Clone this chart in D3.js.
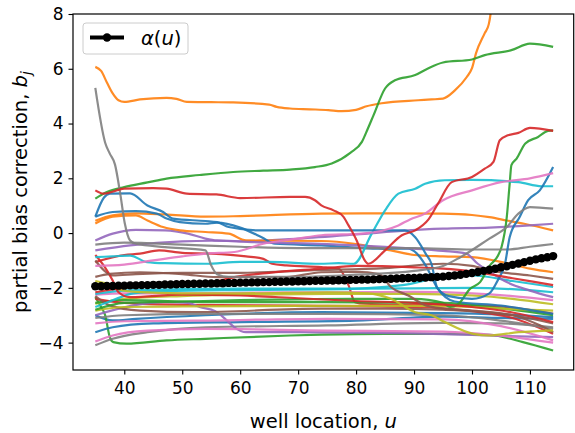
<!DOCTYPE html>
<html>
<head>
<meta charset="utf-8">
<script src="https://cdn.jsdelivr.net/npm/d3@7"></script>
<style>
  body { margin: 0; background: #fff; }
  text { font-family: "DejaVu Sans", sans-serif; }
</style>
</head>
<body>
<svg id="chart" width="575" height="433"></svg>
<script>
// ---- tick labels ----
const xTicks = [40, 50, 60, 70, 80, 90, 100, 110];
const yTicks = [-4, -2, 0, 2, 4, 6, 8];

// ---- alpha(u): one value per well location u = 35..114 ----
const alphaU = d3.range(35, 115);
const alphaValues = [
  -1.94, -1.94, -1.93, -1.93, -1.92, -1.92, -1.91, -1.91, -1.90, -1.90,
  -1.89, -1.89, -1.88, -1.88, -1.87, -1.86, -1.86, -1.85, -1.85, -1.84,
  -1.84, -1.83, -1.83, -1.82, -1.82, -1.81, -1.81, -1.80, -1.80, -1.79,
  -1.79, -1.78, -1.78, -1.77, -1.77, -1.76, -1.76, -1.75, -1.74, -1.74,
  -1.73, -1.73, -1.72, -1.72, -1.71, -1.71, -1.70, -1.70, -1.69, -1.68,
  -1.68, -1.67, -1.66, -1.65, -1.64, -1.64, -1.63, -1.62, -1.61, -1.60,
  -1.59, -1.57, -1.55, -1.52, -1.49, -1.46, -1.42, -1.38, -1.34, -1.30,
  -1.25, -1.21, -1.16, -1.11, -1.06, -1.01, -0.96, -0.92, -0.88, -0.84
];

// ---- partial bias corrections b_j, as [u, b] pairs ----
const orangeHigh = [[35,6.07],[36,5.92],[37,5.5],[38,5.1],[39,4.85],[40,4.79],[42.7,4.88],[47.3,4.94],[49,4.9],[50.8,4.79],[55,4.78],[58.8,4.77],[65,4.69],[66.3,4.61],[68.6,4.55],[72,4.52],[75.2,4.49],[77.5,4.45],[80,4.5],[81.8,4.63],[84.4,4.74],[90.7,4.85],[93,4.88],[95,4.91],[97,5.2],[99.1,5.7],[100,6.02],[100.7,6.57],[102.2,7.3],[102.9,7.63],[103.2,8.0],[103.5,8.6]];
const greenHigh = [[35,1.26],[37,1.5],[40,1.68],[44,1.85],[47.3,1.99],[53,2.12],[58.8,2.23],[64,2.28],[68.6,2.32],[72.9,2.41],[75.8,2.54],[79,2.93],[81,3.33],[82,3.8],[83,4.3],[85,5.28],[86.7,5.58],[90.2,5.77],[92.4,6.01],[95,6.23],[100,6.34],[102.2,6.5],[106.8,6.68],[110,6.92],[114,6.8]];
const redDip = [[35,1.56],[36.4,1.44],[40,1.62],[45,1.64],[47.3,1.62],[50.8,1.44],[55.9,1.41],[60,1.28],[68.6,1.32],[71.2,1.32],[72.9,1.2],[74,1.01],[76.1,0.83],[77.8,0.6],[78.7,0.28],[80.1,-0.27],[81.5,-1.0],[82.1,-1.12],[85,-0.63],[87.9,-0.08],[90.2,0.1],[92.5,0.5],[94.2,1.1],[96.5,1.86],[100,2.05],[102.2,2.35],[103.7,2.6],[104.8,3.39],[106.2,3.57],[108,3.66],[110,3.84],[114,3.73]];
const blueRise = [[35,0.6],[36.5,1.3],[37.5,1.44],[41,1.45],[44,1.01],[46.7,0.77],[48.4,0.53],[54,0.44],[56,0.4],[58,0.22],[63,0.1],[74,0.1],[88.4,0.1],[90.2,-0.15],[92,-0.75],[93,-1.12],[94,-2.0],[96,-2.3],[100,-2.4],[103,-2.2],[104.5,-1.7],[105.7,-1.12],[106.5,-0.15],[108.2,0.58],[109.7,1.2],[111.7,1.56],[114,2.41]];
const blueDrop = [[35,0.6],[38,0.77],[42,0.8],[45.6,0.71],[47.3,0.53],[49.6,0.4],[54,0.34],[56,0.38],[60,0.2],[63.7,-0.15],[66,-0.39],[74,-0.45],[84,-0.57],[89,-0.57],[90.5,-0.75],[92,-1.18],[94,-2.0],[97,-2.5],[105,-2.65],[114,-2.95]];
const orangeFlat = [[35,0.45],[38,0.65],[42,0.72],[47,0.68],[54,0.6],[60,0.62],[74,0.71],[85,0.72],[95,0.71],[100,0.66],[103,0.58],[106,0.46],[109,0.34],[114,0.1]];
const orangeSlide = [[35,0.35],[38,0.6],[42,0.65],[44,0.46],[46.7,0.22],[49.6,0.1],[54,0.04],[58,-0.02],[61,-0.27],[74,-0.29],[80,-0.4],[86,-0.63],[90,-0.8],[95,-0.85],[100,-0.88],[106,-1.1],[110,-1.3],[114,-1.43]];
const purpleHigh = [[35,-0.27],[38,-0.02],[42,0.12],[47,0.1],[51,-0.02],[54,-0.2],[56,-0.27],[60,-0.3],[70,-0.2],[80,-0.05],[89,0.1],[95,0.16],[103,0.2],[110,0.28],[114,0.34]];
const purpleMid = [[35,-0.63],[41,-0.45],[50,-0.3],[55,-0.28],[65,-0.35],[75,-0.4],[85,-0.5],[95,-0.65],[99,-0.75],[101,-1.12],[103,-1.4],[106,-1.79],[110,-2.1],[114,-2.34]];
const grayDrop = [[35,5.3],[36.7,3.3],[37.5,2.9],[38.4,2.5],[39.3,1.44],[40.1,0.34],[41,-0.27],[42,-0.39],[47,-0.51],[54,-0.63],[55,-1.18],[56,-1.5],[58,-1.6],[70,-1.6],[80,-1.52],[90,-1.38],[95,-1.2],[98,-0.88],[103,-0.2],[106,0.22],[108,0.71],[110,0.95],[114,0.89]];
const grayFlat = [[35,-0.42],[40,-0.35],[50,-0.42],[60,-0.5],[70,-0.55],[80,-0.55],[90,-0.55],[100,-0.6],[106,-0.6],[110,-0.5],[114,-0.4]];
const cyanRise = [[35,-0.88],[38,-0.85],[41,-0.82],[43.9,-1.06],[47,-1.1],[53.9,-1.12],[60,-1.05],[65,-1.05],[73.8,-1.12],[77,-1.1],[79.6,-1.12],[82.7,-0.02],[85,0.83],[87.3,1.44],[90.2,1.62],[91.9,1.8],[95.3,1.93],[100,1.94],[108,1.86],[112,1.71],[114,1.71]];
const pinkRise = [[35,-1.2],[40,-1.15],[45,-1.0],[50,-0.85],[54,-0.75],[59,-0.69],[64,-0.39],[70,-0.2],[74,-0.08],[81,-0.02],[87.3,0.28],[89.3,0.5],[91.9,0.71],[95,1.2],[100,1.56],[105,1.86],[110,2.0],[114,2.19]];
const redStep = [[35,-1.06],[40,-0.8],[42.7,-0.75],[46,-0.63],[50,-0.72],[55,-0.75],[61,-0.85],[64,-0.94],[65.5,-1.12],[68,-1.18],[74,-1.24],[77,-1.3],[78.7,-1.91],[79.8,-2.52],[81.5,-2.58],[90,-2.62],[95.3,-2.64],[103,-2.65],[108,-2.75],[114,-2.95]];
const redClimb = [[35,-2.16],[41.6,-1.97],[47.3,-1.91],[55,-1.8],[59,-1.61],[65,-1.45],[74,-1.3],[80,-1.2],[90,-1.25],[95,-1.3],[100,-1.4],[107,-1.65],[114,-1.9]];
const redPlunge = [[35,-0.8],[36.5,-1.2],[38,-1.73],[39,-2.16],[41,-2.34],[50,-2.25],[60,-2.28],[70,-2.38],[80,-2.48],[90,-2.55],[100,-2.7],[107,-2.9],[114,-3.25]];
const redLow = [[35,-2.4],[40,-2.55],[50,-2.62],[70,-2.65],[90,-2.7],[100,-2.85],[107,-3.1],[114,-3.68]];
const brownFall = [[35,-1.6],[37.5,-1.49],[42.7,-1.43],[50,-1.5],[56,-1.61],[68,-1.61],[74,-1.43],[80,-1.42],[84,-1.5],[86,-1.97],[89,-2.28],[92,-2.64],[95.3,-2.76],[100,-2.83],[107,-3.0],[111.7,-3.37],[114,-3.62]];
const brownHigh = [[35,-1.0],[36.5,-1.36],[38,-1.55],[42,-1.5],[50,-1.45],[60,-1.45],[72,-1.36],[85,-1.28],[95,-1.12],[100,-1.2],[103,-1.36],[110,-1.55],[114,-1.67]];
const brownLow = [[35,-2.3],[37.5,-2.64],[42.7,-2.83],[52,-2.89],[74,-2.76],[85,-2.76],[95,-2.8],[100,-2.85],[107,-3.0],[114,-3.3]];
const oliveA = [[35,-2.58],[40,-2.4],[50,-2.3],[60,-2.25],[75,-2.22],[90,-2.22],[100,-2.28],[107,-2.4],[114,-2.6]];
const oliveB = [[35,-2.83],[40,-2.7],[50,-2.68],[70,-2.66],[90,-2.66],[100,-2.7],[107,-2.78],[114,-2.83]];
const oliveSag = [[35,-1.75],[37,-1.85],[39,-2.05],[42,-2.15],[50,-2.2],[60,-2.2],[75,-2.16],[82,-2.2],[86,-2.4],[90.2,-2.89],[93,-3.0],[95.3,-3.25],[100.2,-3.68],[103,-3.74],[108,-3.62],[114,-3.55]];
const cyanA = [[35,-2.22],[40,-2.1],[50,-2.05],[60,-2.03],[75,-2.03],[90,-2.02],[100,-2.0],[107,-2.05],[114,-2.16]];
const cyanB = [[35,-2.7],[38,-2.45],[41.6,-2.2],[47,-2.12],[60,-2.08],[75,-2.06],[88,-1.9],[95,-1.6],[100,-1.55],[107,-1.75],[114,-1.97]];
const pinkA = [[35,-2.25],[40,-2.2],[50,-2.2],[60,-2.18],[75,-2.16],[90,-2.15],[100,-2.2],[107,-2.3],[114,-2.45]];
const pinkB = [[35,-3.3],[40,-3.22],[52,-3.2],[75,-3.13],[95,-3.15],[105,-3.4],[114,-3.92]];
const pinkC = [[35,-3.96],[38,-3.74],[44,-3.56],[54,-3.5],[75,-3.56],[95,-3.6],[105,-3.75],[114,-4.0]];
const blueA = [[35,-3.0],[38,-3.19],[42,-3.13],[54,-3.0],[74,-2.89],[95,-2.92],[105,-2.97],[114,-3.07]];
const blueB = [[35,-3.62],[38,-3.44],[45,-3.3],[60,-3.25],[80,-3.2],[95,-3.05],[105,-3.1],[114,-3.13]];
const grayLow = [[35,-4.1],[38,-3.86],[44,-3.62],[54,-3.44],[75,-3.37],[95,-3.28],[105,-3.3],[114,-3.44]];
const grayMid = [[35,-3.1],[40,-3.0],[55,-2.95],[75,-2.95],[95,-3.0],[105,-3.2],[114,-3.5]];
const greenLow = [[35,-2.34],[36,-2.7],[36.7,-3.0],[37.5,-3.8],[38.1,-3.98],[40.4,-4.04],[47.3,-3.92],[54,-3.86],[68.6,-3.74],[74,-3.71],[85,-3.68],[95.3,-3.68],[103,-3.72],[108.8,-3.98],[114,-4.29]];
const greenJump = [[35,-2.8],[40,-2.55],[50,-2.5],[60,-2.45],[70,-2.42],[80,-2.4],[90,-2.4],[95,-2.55],[96.2,-2.7],[97.5,-2.62],[99.7,-2.03],[101.4,-1.79],[103.1,-1.18],[104.5,-0.82],[105.1,-0.51],[106,0.58],[106.5,1.8],[106.8,2.48],[107.7,2.72],[109.2,3.27],[111.4,3.51],[113.1,3.73],[114,3.75]];
const greenMid = [[35,-2.55],[40,-2.45],[55,-2.52],[75,-2.52],[95,-2.55],[105,-2.75],[114,-3.0]];
const purpleLow = [[35,-3.0],[41.6,-2.64],[47,-2.52],[51,-2.55],[53,-2.7],[55.7,-2.85],[57.4,-3.13],[59,-3.44],[61,-3.62],[70,-3.62],[80,-3.64],[90,-3.66],[100,-3.72],[110,-3.78],[114,-3.8]];

// ---- line colours (tab10) ----
const C = {
  blue: "#1f77b4", orange: "#ff7f0e", green: "#2ca02c", red: "#d62728", purple: "#9467bd",
  brown: "#8c564b", pink: "#e377c2", gray: "#7f7f7f", olive: "#bcbd22", cyan: "#17becf"
};

const curves = [
  [blueA, C.blue], [orangeFlat, C.orange], [greenLow, C.green], [redStep, C.red], [purpleHigh, C.purple],
  [brownHigh, C.brown], [pinkA, C.pink], [grayLow, C.gray], [oliveA, C.olive], [cyanA, C.cyan],
  [blueB, C.blue], [orangeSlide, C.orange], [greenMid, C.green], [redLow, C.red], [purpleLow, C.purple],
  [brownLow, C.brown], [pinkB, C.pink], [grayMid, C.gray], [oliveB, C.olive], [cyanB, C.cyan],
  [blueDrop, C.blue], [orangeHigh, C.orange], [greenJump, C.green], [redPlunge, C.red], [purpleMid, C.purple],
  [brownFall, C.brown], [pinkC, C.pink], [grayFlat, C.gray], [oliveSag, C.olive], [cyanRise, C.cyan],
  [blueRise, C.blue], [greenHigh, C.green], [redClimb, C.red], [pinkRise, C.pink], [grayDrop, C.gray],
  [redDip, C.red]
];

// ---- layout ----
const svg = d3.select("#chart");
const plot = { left: 73, top: 14, right: 573.7, bottom: 370 };

const x = d3.scaleLinear().domain([31.15, 117.55]).range([plot.left, plot.right]);
const y = d3.scaleLinear().domain([-5, 8]).range([plot.bottom, plot.top]);

svg.append("defs").append("clipPath").attr("id", "plot-clip")
  .append("rect")
  .attr("x", plot.left).attr("y", plot.top)
  .attr("width", plot.right - plot.left).attr("height", plot.bottom - plot.top);

const lineGen = d3.line().x(d => x(d[0])).y(d => y(d[1])).curve(d3.curveMonotoneX);

const lines = svg.append("g").attr("clip-path", "url(#plot-clip)");
lines.selectAll("path.bj")
  .data(curves)
  .join("path")
  .attr("class", "bj")
  .attr("d", d => lineGen(d[0]))
  .attr("fill", "none")
  .attr("stroke", d => d[1])
  .attr("stroke-opacity", 0.9)
  .attr("stroke-width", 2.2)
  .attr("stroke-linejoin", "round");

// alpha(u) line with markers
const alphaPts = alphaU.map((u, i) => [u, alphaValues[i]]);
const alphaG = svg.append("g").attr("clip-path", "url(#plot-clip)");
alphaG.append("path")
  .attr("d", d3.line().x(d => x(d[0])).y(d => y(d[1]))(alphaPts))
  .attr("fill", "none").attr("stroke", "#000").attr("stroke-width", 3.8);
alphaG.selectAll("circle")
  .data(alphaPts)
  .join("circle")
  .attr("cx", d => x(d[0])).attr("cy", d => y(d[1]))
  .attr("r", 4.2).attr("fill", "#000");

// ---- axes ----
const minus = v => (v < 0 ? "\u2212" + Math.abs(v) : String(v));

const xAxis = svg.append("g")
  .attr("transform", `translate(0,${plot.bottom})`)
  .call(d3.axisBottom(x).tickValues(xTicks).tickSize(4.5).tickPadding(7.5).tickFormat(minus));
const yAxis = svg.append("g")
  .attr("transform", `translate(${plot.left},0)`)
  .call(d3.axisLeft(y).tickValues(yTicks).tickSize(4.5).tickPadding(5).tickFormat(minus));

[xAxis, yAxis].forEach(g => {
  g.select(".domain").remove();
  g.selectAll(".tick line").attr("stroke", "#000").attr("stroke-width", 1.1);
  g.selectAll(".tick text")
    .attr("fill", "#000")
    .style("font-family", "'DejaVu Sans', sans-serif")
    .style("font-size", "17px");
});

// frame
svg.append("rect")
  .attr("x", plot.left).attr("y", plot.top)
  .attr("width", plot.right - plot.left).attr("height", plot.bottom - plot.top)
  .attr("fill", "none").attr("stroke", "#000").attr("stroke-width", 1.2);

// ---- axis labels ----
const xl = svg.append("text")
  .attr("x", (plot.left + plot.right) / 2).attr("y", 428)
  .attr("text-anchor", "middle")
  .style("font-size", "19.5px").attr("fill", "#000");
xl.append("tspan").text("well location, ");
xl.append("tspan").style("font-style", "italic").text("u");

const yl = svg.append("text")
  .attr("transform", `translate(27,${(plot.top + plot.bottom) / 2}) rotate(-90)`)
  .attr("text-anchor", "middle")
  .style("font-size", "19.5px").attr("fill", "#000");
yl.append("tspan").text("partial bias correction, ");
yl.append("tspan").style("font-style", "italic").text("b");
yl.append("tspan").style("font-style", "italic").style("font-size", "14px")
  .attr("dy", 4).text("j");

// ---- legend ----
const lg = svg.append("g");
lg.append("rect")
  .attr("x", 83).attr("y", 23).attr("width", 105).attr("height", 31).attr("rx", 3)
  .attr("fill", "#fff").attr("fill-opacity", 0.8)
  .attr("stroke", "#cccccc").attr("stroke-width", 1);
lg.append("line")
  .attr("x1", 90).attr("x2", 124).attr("y1", 37.5).attr("y2", 37.5)
  .attr("stroke", "#000").attr("stroke-width", 3.8);
lg.append("circle").attr("cx", 107).attr("cy", 37.5).attr("r", 4.2).attr("fill", "#000");
const lt = lg.append("text").attr("x", 141).attr("y", 44.5)
  .style("font-size", "19.5px").attr("fill", "#000");
lt.append("tspan").style("font-style", "italic").text("\u03b1");
lt.append("tspan").text("(");
lt.append("tspan").style("font-style", "italic").text("u");
lt.append("tspan").text(")");
</script>
</body>
</html>
